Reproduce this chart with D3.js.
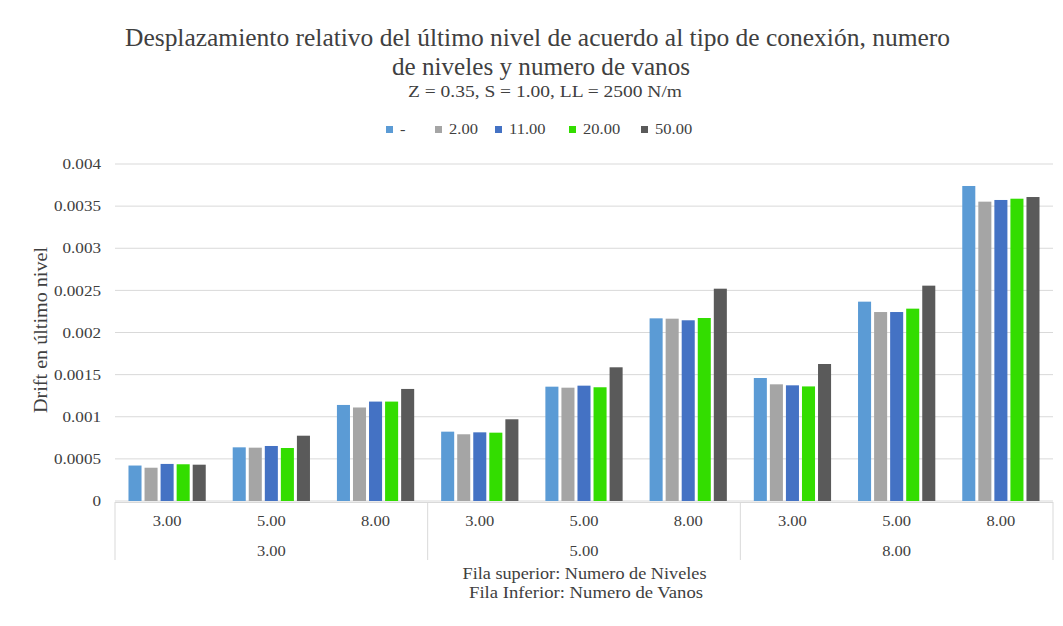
<!DOCTYPE html>
<html><head><meta charset="utf-8">
<script src="https://cdn.jsdelivr.net/npm/d3@7"></script>
<style>body{margin:0;background:#fff}svg{display:block}text{font-family:"Liberation Serif","Times New Roman",serif;fill:#404040}</style>
</head><body><svg id="c" width="1063" height="626"></svg>
<script>
const seriesNames = ["-", "2.00", "11.00", "20.00", "50.00"];
const seriesColors = ["#5b9bd5", "#a5a5a5", "#4472c4", "#33dd00", "#5a5a5a"];
const niveles = ["3.00", "5.00", "8.00", "3.00", "5.00", "8.00", "3.00", "5.00", "8.00"];
const vanos = ["3.00", "5.00", "8.00"];
const sMinus = [0.000421, 0.000637, 0.00114, 0.000823, 0.001357, 0.002168, 0.00146, 0.002366, 0.003739];
const s2 = [0.000395, 0.000633, 0.00111, 0.000792, 0.001345, 0.002164, 0.001385, 0.002243, 0.003553];
const s11 = [0.00044, 0.000653, 0.00118, 0.000815, 0.001369, 0.002145, 0.001373, 0.002243, 0.003573];
const s20 = [0.000436, 0.000629, 0.00118, 0.000811, 0.00135, 0.002172, 0.00136, 0.002283, 0.003588];
const s50 = [0.000431, 0.000775, 0.00133, 0.00097, 0.001587, 0.00252, 0.001626, 0.002556, 0.003608];
const yTicks = [0, 0.0005, 0.001, 0.0015, 0.002, 0.0025, 0.003, 0.0035, 0.004];

const series = [sMinus, s2, s11, s20, s50];
const svg = d3.select("#c");
const L = 115, R = 1053, T = 164, B = 501;

function stretch(sel, f) {
  sel.each(function () {
    const w = this.getComputedTextLength();
    this.setAttribute("textLength", w * f);
    this.setAttribute("lengthAdjust", "spacingAndGlyphs");
  });
}
function fit(sel, w) {
  sel.attr("textLength", w).attr("lengthAdjust", "spacingAndGlyphs");
}

const x0 = d3.scaleBand().domain(d3.range(niveles.length)).range([L, R]).padding(0);
const x1 = d3.scaleBand().domain(d3.range(seriesNames.length)).range([0, x0.bandwidth()]).paddingInner(0.1875).paddingOuter(0.84);
const y = d3.scaleLinear().domain([0, 0.004]).range([B, T]);

// gridlines
svg.append("g").selectAll("line").data(yTicks).join("line")
  .attr("x1", L).attr("x2", R).attr("y1", d => y(d)).attr("y2", d => y(d))
  .attr("stroke", "#d9d9d9").attr("stroke-width", 1);

// y tick labels
const yAxis = d3.axisLeft(y).tickValues(yTicks).tickSize(0).tickPadding(0)
  .tickFormat(d => d === 0 ? "0" : String(+d.toFixed(4)));
const ya = svg.append("g").attr("transform", `translate(${L - 14},0)`).call(yAxis);
ya.select(".domain").remove();
ya.selectAll("text").attr("font-size", 14.5).attr("font-family", "Liberation Serif").attr("fill", "#404040");
stretch(ya.selectAll("text"), 1.18);

// bars
const g = svg.append("g");
series.forEach((vals, si) => {
  g.append("g").selectAll("rect").data(vals).join("rect")
    .attr("x", (d, i) => x0(i) + x1(si))
    .attr("width", x1.bandwidth())
    .attr("y", d => y(d))
    .attr("height", d => y(0) - y(d))
    .attr("fill", seriesColors[si]);
});

// category table
const tb = svg.append("g");
tb.append("line").attr("x1", L).attr("x2", R).attr("y1", B + 1.5).attr("y2", B + 1.5).attr("stroke", "#d9d9d9");
const groupEdges = [0, 3, 6, 9];
groupEdges.forEach(k => {
  const xx = k < 9 ? x0(k) : R;
  tb.append("line").attr("x1", xx).attr("x2", xx).attr("y1", B + 1).attr("y2", 560).attr("stroke", "#d9d9d9");
});
const lv1 = tb.selectAll("text.lv1").data(niveles).join("text").attr("class", "lv1")
  .attr("x", (d, i) => x0(i) + x0.bandwidth() / 2).attr("y", 526)
  .attr("text-anchor", "middle").attr("font-size", 15).text(d => d);
const lv2 = tb.selectAll("text.lv2").data(vanos).join("text").attr("class", "lv2")
  .attr("x", (d, i) => (x0(i * 3) + (i * 3 + 3 < 9 ? x0(i * 3 + 3) : R)) / 2).attr("y", 556)
  .attr("text-anchor", "middle").attr("font-size", 15).text(d => d);
stretch(lv1, 1.1);
stretch(lv2, 1.1);

// axis titles
svg.append("text").attr("x", 584.5).attr("y", 579).attr("text-anchor", "middle").attr("font-size", 17).attr("fill", "#262626").text("Fila superior: Numero de Niveles").call(fit, 244);
svg.append("text").attr("x", 586).attr("y", 598).attr("text-anchor", "middle").attr("font-size", 17).attr("fill", "#262626").text("Fila Inferior: Numero de Vanos").call(fit, 234);
svg.append("text").attr("transform", "translate(47,330) rotate(-90)").attr("text-anchor", "middle").attr("font-size", 18).attr("fill", "#262626").text("Drift en último nivel").call(fit, 166);

// titles
svg.append("text").attr("x", 537.5).attr("y", 46).attr("text-anchor", "middle").attr("font-size", 25).attr("fill", "#262626").text("Desplazamiento relativo del último nivel de acuerdo al tipo de conexión, numero").call(fit, 825);
svg.append("text").attr("x", 541).attr("y", 75).attr("text-anchor", "middle").attr("font-size", 25).attr("fill", "#262626").text("de niveles y numero de vanos").call(fit, 298);
svg.append("text").attr("x", 545).attr("y", 97).attr("text-anchor", "middle").attr("font-size", 17).attr("fill", "#262626").text("Z = 0.35, S = 1.00, LL = 2500 N/m").call(fit, 274);

// legend
const legX = [386, 435, 495, 569, 641];
const lg = svg.append("g");
seriesNames.forEach((n, i) => {
  lg.append("rect").attr("x", legX[i]).attr("y", 126).attr("width", 7).attr("height", 7).attr("fill", seriesColors[i]);
  const t = lg.append("text").attr("x", legX[i] + 14).attr("y", 134).attr("font-size", 15).text(n);
  stretch(t, 1.1);
});
</script></body></html>
